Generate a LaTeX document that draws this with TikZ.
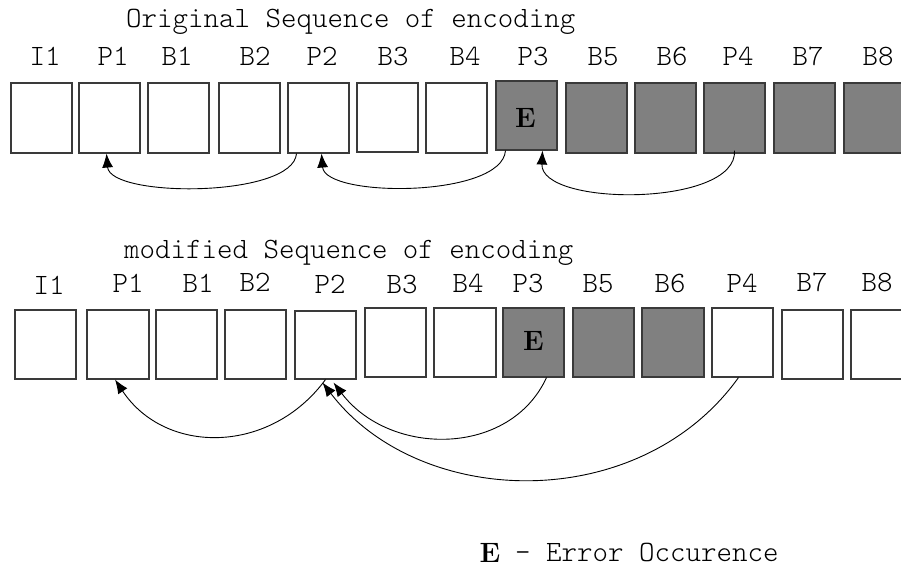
\documentclass[tikz,border=0pt]{standalone}
\usepackage{fontspec}
\usetikzlibrary{arrows.meta}
\definecolor{frameline}{HTML}{3A3A3A}
\definecolor{errfill}{HTML}{808080}
\newcommand\errletter{{\normalfont\bfseries\fontsize{28}{32}\selectfont E}}
\tikzset{
  txtfont/.style={font=\ttfamily\fontseries{l}\fontsize{29.5}{34}\selectfont},
  frame/.style={draw=frameline, line width=1.1pt, inner sep=0pt},
  lbl/.style={anchor=base, inner sep=0pt, txtfont},
  ttl/.style={anchor=base west, inner sep=0pt, txtfont},
  errmark/.style={inner sep=0pt},
  refarrow/.style={line width=0.9pt, -{Latex[length=14pt,width=11pt]}},
}
\begin{document}
\begin{tikzpicture}[x=1pt, y=-1pt]
\useasboundingbox (0,0) rectangle (901,568);

% ---------- original order ----------
\node[ttl] (title1) at (126,27) {Original Sequence of encoding};

% name / left / top / right / bottom / fill / label / label x
\foreach \n/\l/\t/\r/\b/\f/\txt/\lx in {
  t1/11/83/72/153/white/I1/45,
  t2/79/83/140/153/white/P1/113,
  t3/148/83/209/153/white/B1/177,
  t4/219/83/280/153/white/B2/255,
  t5/288/83/349/153/white/P2/322,
  t6/357/83/418/152/white/B3/393,
  t7/426/83/487/153/white/B4/465,
  t8/496/81/557/150/errfill/P3/533,
  t9/566/83/627/153/errfill/B5/603,
  t10/635/83/696/153/errfill/B6/672,
  t11/704/83/765/153/errfill/P4/738,
  t12/774/83/835/153/errfill/B7/808,
  t13/844/83/905/153/errfill/B8/878}{
  \node[frame, fill=\f, minimum width={\r-\l}, minimum height={\b-\t}]
    (\n) at ({(\l+\r)/2},{(\t+\b)/2}) {};
  \node[lbl] (\n lbl) at (\lx,65) {\txt};
}
\node[errmark] (t8e) at ([xshift=-1pt,yshift=-2pt]t8.center) {\errletter};

\draw[refarrow] ([xshift=-22pt]t5.south) .. controls (293,198) and (110,198) .. ([xshift=-3pt]t2.south);
\draw[refarrow] ([xshift=-21pt]t8.south) .. controls (502,198) and (325,198) .. ([xshift=3pt]t5.south);
\draw[refarrow] ([yshift=3pt]t11.south) .. controls (738,207) and (540,207) .. ([xshift=16pt]t8.south);

% ---------- modified order ----------
\node[ttl] (title2) at (124,258) {modified Sequence of encoding};

\foreach \n/\l/\t/\r/\b/\f/\txt/\lx/\ly in {
  b1/15/310/76/379/white/I1/49/294,
  b2/87/310/149/379/white/P1/128/292,
  b3/156/310/217/379/white/B1/198/292,
  b4/225/310/286/379/white/B2/255/291,
  b5/295/311/356/379/white/P2/330/293,
  b6/365/308/426/377/white/B3/402/293,
  b7/434/308/496/377/white/B4/468/292,
  b8/503/308/564/377/errfill/P3/528/292,
  b9/573/308/634/377/errfill/B5/598/292,
  b10/642/308/704/377/errfill/B6/670/292,
  b11/712/308/773/377/white/P4/742/292,
  b12/782/310/843/379/white/B7/812/291,
  b13/851/310/912/379/white/B8/877/291}{
  \node[frame, fill=\f, minimum width={\r-\l}, minimum height={\b-\t}]
    (\n) at ({(\l+\r)/2},{(\t+\b)/2}) {};
  \node[lbl] (\n lbl) at (\lx,\ly) {\txt};
}
\node[errmark] (b8e) at ([yshift=2pt]b8.center) {\errletter};

\draw[refarrow] (b5.south) .. controls (270,455) and (165,455) .. ([xshift=-3pt]b2.south);
\draw[refarrow] ([xshift=13pt]b8.south) .. controls (510,457) and (390,457) .. ([xshift=8pt,yshift=-3pt]b5.south);
\draw[refarrow] ([xshift=-4pt]b11.south) .. controls (640,515) and (420,510) .. ([xshift=-3pt,yshift=-3pt]b5.south);

% ---------- key ----------
\node[errmark] (keyE) at (490,553) {\errletter};
\node[ttl] (keytxt) at (515,561) {- Error Occurence};
\end{tikzpicture}
\end{document}
